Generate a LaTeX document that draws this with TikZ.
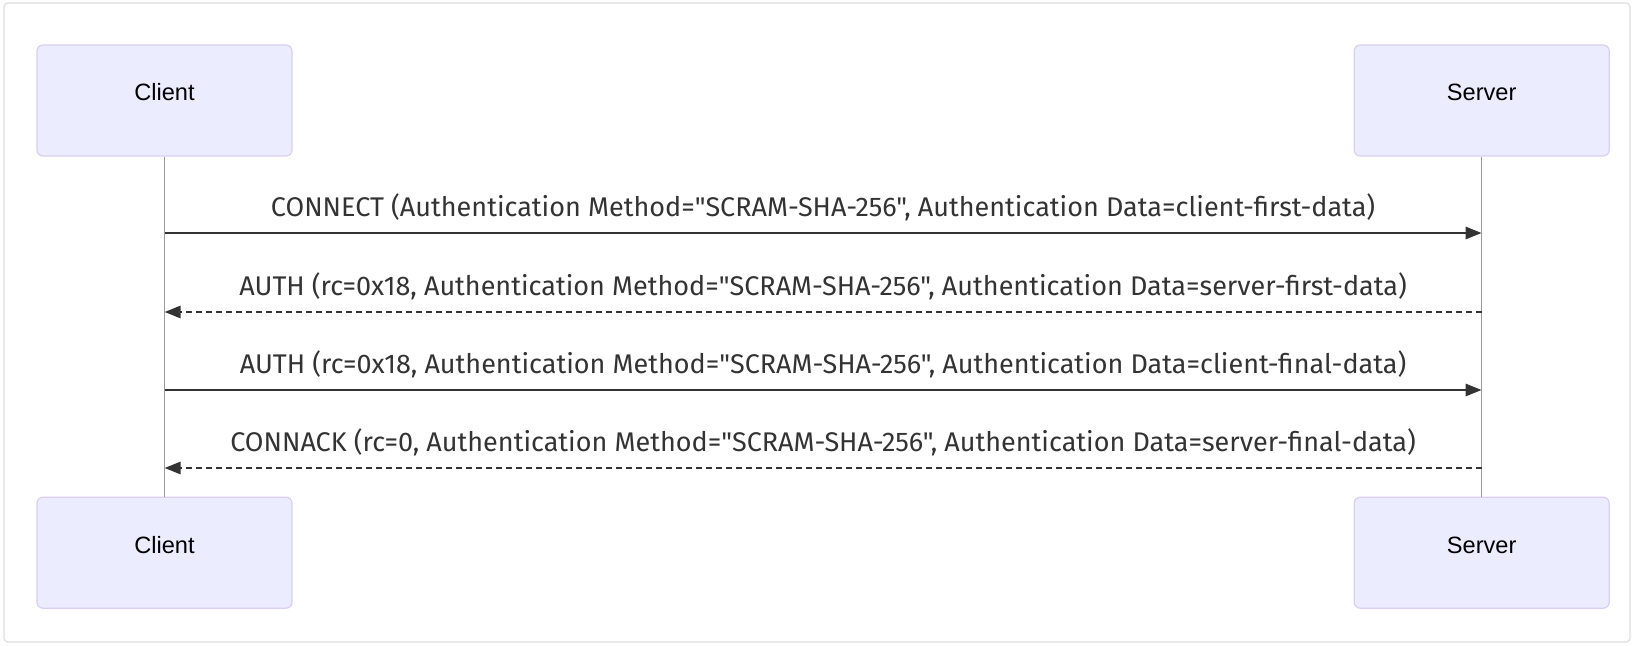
\documentclass[tikz,border=0pt]{standalone}
\usepackage{fontspec}
\usepackage{tikz}
\usetikzlibrary{positioning, arrows.meta}
\newfontfamily\msgfont{Fira Sans}
\newfontfamily\actorfont{Liberation Sans}
\definecolor{actorfill}{RGB}{236,236,255}
\definecolor{actorline}{RGB}{218,206,243}
\definecolor{lifegray}{RGB}{153,153,153}
\definecolor{msgdark}{RGB}{51,51,51}
\definecolor{framegray}{RGB}{221,221,221}
\tikzset{
    actor/.style={draw=actorline, fill=actorfill, line width=0.6pt, rounded corners=3pt,
        minimum width=127.5pt, minimum height=55.5pt, text height=9pt, text depth=8.5pt,
        font=\actorfont\fontsize{11.8}{14}\selectfont}, % the participant boxes
    lifeline/.style={draw=lifegray, line width=0.5pt}, % vertical line under each participant
    msg/.style={->, draw=msgdark, line width=1.3pt}, % a request
    reply/.style={msg, dash pattern=on 3pt off 2pt}, % an answer
    msgtext/.style={midway, yshift=13pt, text=msgdark,
        font=\msgfont\fontsize{13.5}{16}\selectfont}, % the text over a message
    >={Triangle[length=8pt,width=6pt]}, % filled arrow heads
}
\begin{document}
\begin{tikzpicture}[x=0.5pt, y=-0.5pt]
    \useasboundingbox (0,0) rectangle (1634,646);
    \draw[framegray, line width=0.6pt, rounded corners=2pt] (4,3) rectangle (1630,642);
    % participants
    \node[actor] (client) at (164.5,100.5) {Client};
    \node[actor, right=530.5pt of client] (server) {Server};
    \node[actor, below=170pt of client] (clientb) {Client};
    \node[actor, below=170pt of server] (serverb) {Server};
    % lifelines
    \draw[lifeline] (client) -- (clientb);
    \draw[lifeline] (server) -- (serverb);
    \foreach \n/\y in {1/233,2/312,3/390,4/468} {
        \coordinate (c\n) at (client |- 0,\y);
        \coordinate (s\n) at (server |- 0,\y);
    }
    % messages
    \draw[msg] (c1) -- node[msgtext] {CONNECT (Authentication Method="SCRAM-SHA-256", Authentication Data=client-first-data)} (s1);
    \draw[reply] (s2) -- node[msgtext] {AUTH (rc=0x18, Authentication Method="SCRAM-SHA-256", Authentication Data=server-first-data)} (c2);
    \draw[msg] (c3) -- node[msgtext] {AUTH (rc=0x18, Authentication Method="SCRAM-SHA-256", Authentication Data=client-final-data)} (s3);
    \draw[reply] (s4) -- node[msgtext] {CONNACK (rc=0, Authentication Method="SCRAM-SHA-256", Authentication Data=server-final-data)} (c4);
\end{tikzpicture}
\end{document}
